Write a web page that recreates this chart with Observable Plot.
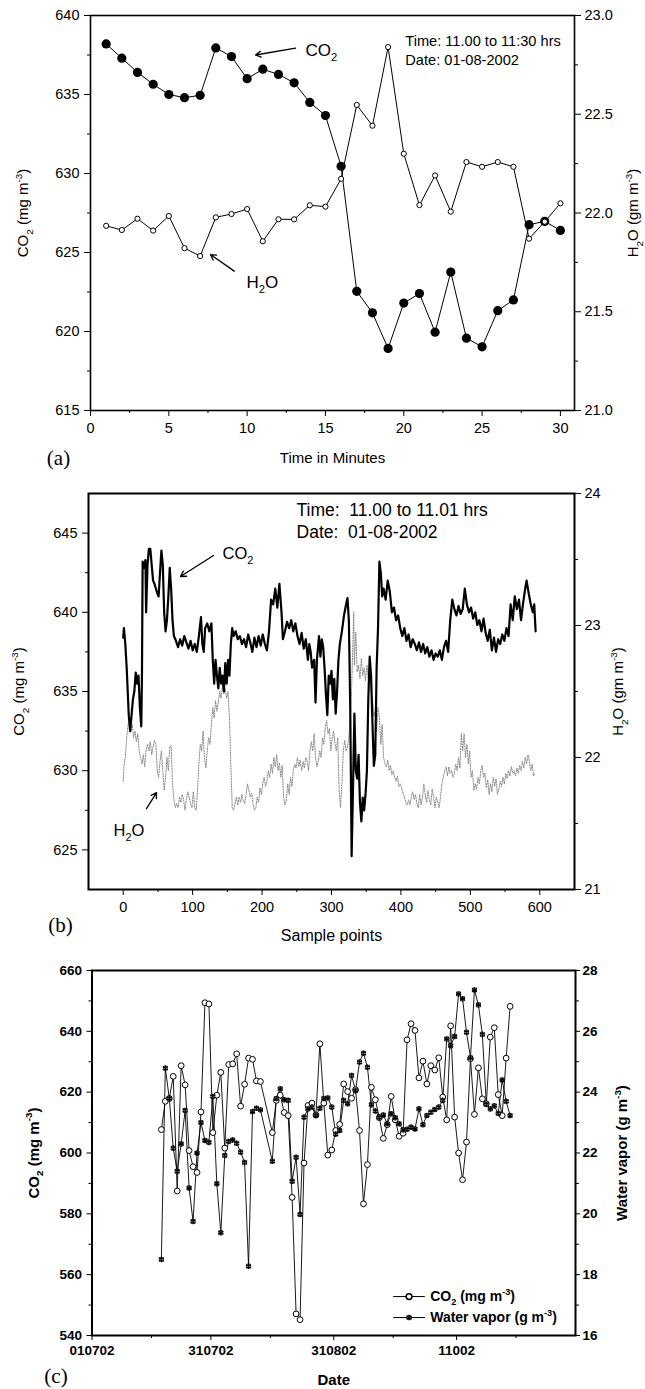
<!DOCTYPE html>
<html><head><meta charset="utf-8">
<script src="https://cdn.jsdelivr.net/npm/d3@7"></script>
<script src="https://cdn.jsdelivr.net/npm/@observablehq/plot@0.6"></script>
<style>
html,body{margin:0;padding:0;background:#fff;}
#root{position:relative;width:645px;height:1389px;overflow:hidden;background:#fff;}
.pan{position:absolute;left:0;}
</style></head><body><div id="root"></div>
<script>
const SANS = "'Liberation Sans', Arial, Helvetica, sans-serif";
const SERIF = "'Liberation Serif', 'Times New Roman', serif";

// ---------------- Panel (a) data ----------------
const minutesA = [1,2,3,4,5,6,7,8,9,10,11,12,13,14,15,16,17,18,19,20,21,22,23,24,25,26,27,28,29,30];
const co2A = [638.2,637.3,636.4,635.65,635.0,634.8,634.95,637.95,637.4,636.0,636.6,636.27,635.74,634.5,633.67,630.46,622.54,621.18,618.93,621.8,622.4,619.96,623.76,619.58,619.03,621.32,622.0,626.76,626.97,626.4];
const h2oA = [21.935,21.914,21.971,21.911,21.985,21.822,21.782,21.978,21.995,22.02,21.857,21.968,21.968,22.039,22.032,22.173,22.547,22.442,22.84,22.30,22.04,22.19,22.007,22.258,22.234,22.258,22.234,21.87,21.956,22.049];
const xTicksA = [0,5,10,15,20,25,30];
const xMinorA = [2.5,7.5,12.5,17.5,22.5,27.5];
const yTicksA = [615,620,625,630,635,640];
const yMinorA = [617.5,622.5,627.5,632.5,637.5];
const rTicksA = [21.0,21.5,22.0,22.5,23.0];
const rMinorA = [21.25,21.75,22.25,22.75];

// ---------------- Panel (b) data ----------------
const co2TraceB = [[0,638.4],[1,639.0],[3,638.0],[5,636.5],[8,633.5],[10,632.5],[12,633.5],[14,634.5],[16,635.0],[18,636.2],[20,635.5],[22,636.0],[24,634.0],[26,632.8],[27,636.0],[28,643.2],[30,642.8],[32,643.3],[33,640.0],[35,643.0],[37,644.0],[39,644.0],[41,643.0],[43,642.0],[45,641.8],[47,641.5],[49,641.2],[51,641.0],[53,642.5],[55,643.9],[57,643.0],[59,640.0],[61,638.8],[63,639.5],[65,641.0],[67,642.8],[69,641.5],[71,639.5],[73,638.5],[76,638.2],[79,637.8],[82,638.3],[85,637.9],[88,638.5],[91,638.1],[94,637.7],[97,638.2],[100,637.6],[103,638.0],[106,637.5],[109,638.5],[112,639.7],[114,638.0],[116,637.5],[118,639.0],[121,639.3],[124,638.8],[127,639.3],[129,637.0],[131,635.5],[133,637.0],[135,636.0],[137,635.2],[139,636.5],[141,635.5],[143,636.0],[145,635.0],[147,636.8],[149,635.5],[151,637.0],[153,636.0],[155,638.0],[157,639.0],[159,638.5],[162,638.8],[165,638.3],[168,638.5],[171,638.0],[174,638.3],[177,637.8],[180,638.6],[183,638.1],[186,637.5],[189,638.4],[192,637.8],[195,638.5],[198,637.9],[201,638.6],[204,638.0],[207,637.6],[210,638.8],[213,640.8],[216,640.5],[219,641.5],[222,640.3],[225,641.8],[228,640.0],[230,638.3],[233,638.8],[236,639.4],[239,639.0],[242,639.5],[245,638.8],[248,639.3],[251,638.5],[254,638.0],[257,638.7],[260,637.7],[263,638.3],[266,637.0],[268,638.0],[270,637.5],[272,636.5],[275,637.0],[277,634.3],[279,637.0],[282,638.5],[284,637.2],[286,638.3],[288,637.8],[290,636.5],[292,634.8],[294,633.5],[296,636.0],[298,635.5],[300,636.3],[302,634.5],[304,635.8],[306,633.6],[308,635.0],[310,637.0],[312,638.0],[315,638.8],[318,639.8],[321,640.5],[323,640.9],[325,639.5],[327,634.0],[329,624.6],[331,629.0],[333,633.6],[335,630.0],[337,629.5],[339,631.0],[341,628.0],[343,626.8],[345,628.3],[347,627.5],[349,628.5],[351,630.0],[353,634.5],[355,637.2],[357,636.0],[359,633.0],[361,630.3],[363,631.0],[365,636.5],[367,639.0],[369,643.2],[371,642.5],[373,641.0],[375,641.5],[378,640.8],[381,642.0],[384,641.3],[387,640.0],[390,640.3],[393,639.5],[396,639.8],[399,639.0],[402,638.5],[405,639.0],[408,638.2],[411,638.6],[414,637.8],[417,638.3],[420,638.0],[423,637.6],[426,638.1],[429,637.5],[432,638.0],[435,637.4],[438,637.8],[441,637.2],[444,637.6],[447,637.0],[450,637.4],[453,637.2],[456,637.6],[459,637.0],[462,637.8],[465,638.2],[468,637.5],[471,639.5],[474,640.8],[477,640.2],[480,639.8],[483,640.4],[486,639.9],[489,640.2],[492,641.5],[495,640.5],[498,640.0],[501,640.3],[504,639.6],[507,640.0],[510,639.2],[513,639.5],[516,638.8],[519,639.6],[522,638.7],[525,638.2],[528,638.9],[531,637.6],[534,638.4],[537,637.5],[540,638.3],[543,638.0],[546,638.6],[549,638.2],[552,639.0],[555,638.5],[558,640.5],[561,639.5],[564,641.0],[567,640.2],[570,640.8],[573,639.5],[576,640.6],[579,641.5],[581,642.0],[584,641.2],[587,640.5],[590,640.0],[592,640.5],[594,638.8]];
const h2oTraceB = [[0,21.82],[1,21.93],[3,22.0],[5,22.15],[7,22.25],[9,22.28],[11,22.2],[13,22.25],[15,22.15],[17,22.2],[19,22.12],[21,22.18],[23,22.05],[25,22.0],[27,21.95],[29,22.02],[31,21.93],[33,22.06],[35,22.1],[37,22.05],[39,22.12],[41,22.02],[43,22.08],[45,22.13],[47,22.1],[49,21.9],[51,21.85],[53,21.97],[55,22.05],[57,21.9],[59,21.75],[61,21.85],[63,22.0],[65,21.9],[67,22.08],[69,22.09],[71,21.8],[73,21.68],[75,21.62],[77,21.65],[79,21.62],[81,21.7],[83,21.66],[85,21.72],[87,21.68],[89,21.6],[91,21.68],[93,21.74],[95,21.7],[97,21.65],[99,21.62],[101,21.74],[103,21.62],[105,21.6],[107,21.75],[109,21.95],[111,22.1],[113,22.05],[115,22.2],[117,22.0],[119,21.92],[121,22.05],[123,22.15],[125,22.1],[127,22.25],[129,22.38],[131,22.3],[133,22.43],[135,22.35],[137,22.42],[139,22.5],[141,22.45],[143,22.55],[145,22.48],[147,22.52],[149,22.45],[151,22.5],[153,22.3],[155,21.95],[157,21.62],[159,21.6],[161,21.65],[163,21.7],[165,21.64],[167,21.7],[169,21.66],[171,21.72],[173,21.67],[175,21.65],[177,21.72],[179,21.8],[181,21.75],[183,21.7],[185,21.73],[187,21.65],[189,21.6],[191,21.62],[193,21.7],[195,21.66],[197,21.77],[199,21.72],[201,21.8],[203,21.85],[205,21.78],[207,21.82],[209,21.9],[211,21.85],[213,21.95],[215,21.88],[217,22.0],[219,21.93],[221,22.02],[223,21.9],[225,21.96],[227,21.85],[229,21.94],[231,21.7],[233,21.64],[235,21.68],[237,21.8],[239,21.72],[241,21.85],[243,21.78],[245,21.9],[247,21.95],[249,21.92],[251,22.0],[253,21.93],[255,21.98],[257,21.9],[259,21.97],[261,21.92],[263,22.0],[265,21.97],[267,21.9],[269,22.05],[271,22.12],[273,22.05],[275,22.18],[277,22.0],[279,21.93],[281,21.97],[283,22.05],[285,22.0],[287,22.15],[289,22.1],[291,22.23],[293,22.28],[295,22.18],[297,22.22],[299,22.05],[301,22.15],[303,22.2],[305,22.1],[307,22.05],[309,22.15],[311,21.75],[313,21.62],[315,21.8],[317,22.05],[319,22.13],[321,22.05],[323,22.08],[325,22.15],[327,22.3],[329,22.53],[331,22.9],[332,23.1],[333,22.7],[335,22.95],[337,22.65],[339,22.7],[341,22.6],[343,22.75],[345,22.62],[347,22.68],[349,22.58],[351,22.7],[353,22.6],[355,22.69],[357,22.5],[359,22.45],[361,22.31],[363,22.35],[365,22.2],[367,22.38],[369,22.3],[371,22.1],[373,22.25],[375,22.0],[377,21.95],[379,21.93],[381,21.98],[383,21.9],[385,21.94],[387,21.87],[389,21.9],[391,21.85],[393,21.82],[395,21.86],[397,21.78],[399,21.8],[401,21.77],[403,21.73],[405,21.7],[407,21.66],[409,21.64],[411,21.68],[413,21.64],[415,21.7],[417,21.74],[419,21.68],[421,21.72],[423,21.65],[425,21.62],[427,21.72],[429,21.64],[431,21.7],[433,21.8],[435,21.72],[437,21.66],[439,21.75],[441,21.68],[443,21.64],[445,21.76],[447,21.7],[449,21.62],[451,21.7],[453,21.66],[455,21.62],[457,21.7],[459,21.8],[461,21.85],[463,21.9],[465,21.93],[467,21.86],[469,21.93],[471,21.88],[473,21.9],[475,21.85],[477,21.88],[479,21.95],[481,21.9],[483,22.0],[485,21.92],[487,22.18],[489,22.05],[491,22.18],[493,22.0],[495,22.1],[497,21.95],[499,22.05],[501,21.85],[503,21.9],[505,21.75],[507,21.8],[509,21.76],[511,21.85],[513,21.8],[515,21.9],[517,21.94],[519,21.85],[521,21.88],[523,21.77],[525,21.83],[527,21.72],[529,21.8],[531,21.74],[533,21.85],[535,21.78],[537,21.84],[539,21.72],[541,21.76],[543,21.82],[545,21.78],[547,21.85],[549,21.8],[551,21.88],[553,21.84],[555,21.9],[557,21.86],[559,21.93],[561,21.88],[563,21.9],[565,21.86],[567,21.92],[569,21.88],[571,21.94],[573,21.9],[575,21.97],[577,21.92],[579,22.0],[581,21.95],[583,22.02],[585,21.97],[587,21.9],[589,21.95],[591,21.86],[593,21.88]];
const xTicksB = [0,100,200,300,400,500,600];
const xMinorB = [50,150,250,350,450,550];
const yTicksB = [625,630,635,640,645];
const yMinorB = [627.5,632.5,637.5,642.5];
const rTicksB = [21,22,23,24];
const rMinorB = [21.5,22.5,23.5];

// ---------------- Panel (c) data ----------------
const datesC = ["07-18","07-19","07-20","07-21","07-22","07-23","07-24","07-25","07-26","07-27","07-28","07-29","07-30","07-31","08-01","08-02","08-03","08-04","08-05","08-06","08-07","08-08","08-09","08-10","08-11","08-12",
"08-15","08-16","08-17","08-18","08-19","08-20","08-21","08-22","08-23","08-24","08-25","08-26","08-27","08-28","08-29","08-30","08-31","09-01","09-02","09-03","09-04","09-05","09-06","09-07","09-08","09-09","09-10","09-11","09-12","09-13","09-14","09-15","09-16","09-17","09-18","09-19","09-20","09-21","09-22","09-23","09-24","09-25","09-26","09-27","09-28","09-29","09-30","10-01","10-02","10-03","10-04","10-05","10-06","10-07","10-08","10-09","10-10","10-11","10-12","10-13","10-14"];
const co2C = [607.7,617.0,617.9,625.2,587.5,628.7,622.4,600.8,595.5,593.6,613.5,649.4,649.0,606.7,619.0,626.5,601.6,629.1,629.3,632.6,615.4,622.6,631.2,630.8,623.7,623.5,
606.7,617.3,619.0,613.3,612.3,585.4,547.1,545.2,596.7,615.6,616.4,612.5,635.9,616.4,599.3,601.0,607.4,609.4,622.7,620.2,618.0,620.8,607.4,583.3,596.2,621.6,617.5,611.6,604.8,609.3,618.6,610.9,605.5,606.5,637.2,642.5,640.3,624.7,630.2,622.7,628.7,627.3,631.3,618.4,610.9,641.8,611.8,600.0,591.2,603.6,631.0,612.7,628.0,617.8,616.2,638.1,641.2,619.2,612.3,631.2,648.2];
const wvC = [18.5,24.79,23.8,22.16,21.4,22.3,23.4,20.85,19.75,22.0,23.0,22.41,22.35,23.86,20.99,19.38,21.92,22.38,22.43,22.32,22.03,21.69,18.28,23.36,23.47,23.42,
21.73,23.79,24.11,23.75,23.73,21.07,21.86,19.98,23.18,23.45,23.51,23.23,23.47,23.79,23.81,23.51,22.62,22.74,23.73,23.62,24.55,24.05,24.99,25.28,24.82,23.59,23.38,23.18,23.25,22.96,23.29,23.16,22.96,22.76,22.78,22.85,22.79,23.45,22.93,23.23,23.34,23.43,23.51,23.73,25.75,25.53,25.83,27.23,27.07,25.97,25.13,27.36,26.87,25.90,23.6,23.45,23.55,23.3,24.4,23.7,23.23];
const xTickDatesC = ["2002-07-01","2002-07-31","2002-08-31","2002-10-01"];
const xTickLabelsC = ["010702","310702","310802","11002"];
const xMinorDatesC = ["2002-07-16","2002-08-15","2002-09-15","2002-10-16"];
const yTicksC = [540,560,580,600,620,640,660];
const yMinorC = [550,570,590,610,630,650];
const rTicksC = [16,18,20,22,24,26,28];
const rMinorC = [17,19,21,23,25,27];

// ---------------- helpers ----------------
const blank = () => "";
function richText(svg) {
  svg.querySelectorAll("text").forEach(t => {
    const s = t.textContent;
    if (!/[_^]\{/.test(s)) return;
    const fs = parseFloat(getComputedStyle(t).fontSize) || 14;
    const parts = s.split(/([_^]\{[^}]*\})/).filter(p => p !== "");
    while (t.firstChild) t.removeChild(t.firstChild);
    let shift = 0;
    for (const p of parts) {
      const ts = document.createElementNS("http://www.w3.org/2000/svg", "tspan");
      let target = 0, txt = p, small = false;
      if (p.startsWith("_{")) { target = 0.3; txt = p.slice(2, -1); small = true; }
      else if (p.startsWith("^{")) { target = -0.45; txt = p.slice(2, -1); small = true; }
      const dy = (target - shift) * fs;
      if (Math.abs(dy) > 0.01) ts.setAttribute("dy", dy.toFixed(2));
      if (small) ts.setAttribute("font-size", (fs * 0.66).toFixed(1));
      ts.textContent = txt;
      t.appendChild(ts);
      shift = target;
    }
  });
}
function place(svg, top) {
  const d = document.createElement("div");
  d.className = "pan"; d.style.top = top + "px";
  d.appendChild(svg);
  document.getElementById("root").appendChild(d);
  richText(svg);
}
const label = (txt, o) => Plot.text([txt], Object.assign({text: d => d, textAnchor: "middle", lineAnchor: "middle", fill: "black"}, o));

// ---------------- Panel (a) ----------------
const yA = v => 615 + (v - 21) * 12.5;
const tableA = minutesA.map((t, i) => ({t, co2: co2A[i], h2o: h2oA[i]}));
const plotA = Plot.plot({
  width: 645, height: 470, marginTop: 15, marginBottom: 60, marginLeft: 90, marginRight: 71,
  x: {domain: [0, 30.9]}, y: {domain: [615, 640]},
  style: {fontFamily: SANS, fontSize: "14px", color: "black", background: "transparent", overflow: "visible"},
  marks: [
    Plot.axisX({ticks: xTicksA, tickSize: 6, tickPadding: 6, fontSize: 14.5, label: null}),
    Plot.axisX({ticks: xMinorA, tickSize: 3, tickFormat: blank, label: null}),
    Plot.axisY({ticks: yTicksA, tickSize: 6, tickPadding: 5, fontSize: 14.5, label: null}),
    Plot.axisY({ticks: yMinorA, tickSize: 3, tickFormat: blank, label: null}),
    Plot.axisY({anchor: "right", ticks: rTicksA.map(yA), tickFormat: d => ((d - 615) / 12.5 + 21).toFixed(1), tickSize: 6, tickPadding: 4, fontSize: 14.5, label: null}),
    Plot.axisY({anchor: "right", ticks: rMinorA.map(yA), tickSize: 3, tickFormat: blank, label: null}),
    Plot.frame({stroke: "black", strokeWidth: 1.6}),
    Plot.line(tableA, {x: "t", y: "co2", stroke: "black", strokeWidth: 1}),
    Plot.dot(tableA, {x: "t", y: "co2", r: 4.6, fill: "black", stroke: "none"}),
    Plot.line(tableA, {x: "t", y: d => yA(d.h2o), stroke: "black", strokeWidth: 1}),
    Plot.dot(tableA, {x: "t", y: d => yA(d.h2o), r: 2.6, fill: "white", stroke: "black", strokeWidth: 1}),
    Plot.text(["Time: 11.00 to 11:30 hrs", "Date: 01-08-2002"], {x: [20.1, 20.1], y: [638.35, 637.15], text: d => d, textAnchor: "start", fontSize: 14.6, fill: "black"}),
    Plot.text(["CO_{2}"], {x: [13.73], y: [637.8], text: d => d, textAnchor: "start", fontSize: 17, fill: "black"}),
    Plot.arrow([{x1: 13.09, y1: 637.93, x2: 10.54, y2: 637.5}], {x1: "x1", y1: "y1", x2: "x2", y2: "y2", stroke: "black", strokeWidth: 1.3, headLength: 7}),
    Plot.text(["H_{2}O"], {x: [9.96], y: [623.1], text: d => d, textAnchor: "start", fontSize: 17, fill: "black"}),
    Plot.arrow([{x1: 9.18, y1: 623.82, x2: 7.66, y2: 624.87}], {x1: "x1", y1: "y1", x2: "x2", y2: "y2", stroke: "black", strokeWidth: 1.3, headLength: 7}),
    label("Time in Minutes", {frameAnchor: "bottom", dy: 48, fontSize: 15}),
    label("(a)", {frameAnchor: "bottom-left", dx: -32, dy: 48, fontSize: 21, fontFamily: SERIF}),
    label("CO_{2} (mg m^{-3})", {frameAnchor: "left", dx: -67, rotate: -90, fontSize: 15}),
    label("H_{2}O (gm m^{-3})", {frameAnchor: "right", dx: 59, rotate: -90, fontSize: 15})
  ]
});
place(plotA, 0);

// ---------------- Panel (b) ----------------
const yB = v => 622.5 + (v - 21) * 25 / 3;
const plotB = Plot.plot({
  width: 645, height: 475, marginTop: 23, marginBottom: 56, marginLeft: 88, marginRight: 71,
  x: {domain: [-50, 650]}, y: {domain: [622.5, 647.5]},
  style: {fontFamily: SANS, fontSize: "14px", color: "black", background: "transparent", overflow: "visible"},
  marks: [
    Plot.axisX({ticks: xTicksB, tickSize: 6, tickPadding: 6, fontSize: 14.5, label: null}),
    Plot.axisX({ticks: xMinorB, tickSize: 3, tickFormat: blank, label: null}),
    Plot.axisY({ticks: yTicksB, tickSize: 6, tickPadding: 5, fontSize: 14.5, label: null}),
    Plot.axisY({ticks: yMinorB, tickSize: 3, tickFormat: blank, label: null}),
    Plot.axisY({anchor: "right", ticks: rTicksB.map(yB), tickFormat: d => String(Math.round((d - 622.5) * 3 / 25 + 21)), tickSize: 6, tickPadding: 4, fontSize: 14.5, label: null}),
    Plot.axisY({anchor: "right", ticks: rMinorB.map(yB), tickSize: 3, tickFormat: blank, label: null}),
    Plot.frame({stroke: "black", strokeWidth: 2}),
    Plot.line(h2oTraceB, {x: d => d[0], y: d => yB(d[1]), stroke: "#888", strokeWidth: 1, strokeDasharray: "1.2,1.4"}),
    Plot.line(co2TraceB, {x: d => d[0], y: d => d[1], stroke: "black", strokeWidth: 2.2}),
    Plot.text(["Time:  11.00 to 11.01 hrs", "Date:  01-08-2002"], {x: [249.6, 249.6], y: [646.43, 645.04], text: d => d, textAnchor: "start", fontSize: 17.5, fill: "black"}),
    Plot.text(["CO_{2}"], {x: [143], y: [643.7], text: d => d, textAnchor: "start", fontSize: 16.5, fill: "black"}),
    Plot.arrow([{x1: 130, y1: 643.59, x2: 82.5, y2: 642.26}], {x1: "x1", y1: "y1", x2: "x2", y2: "y2", stroke: "black", strokeWidth: 1.3, headLength: 7}),
    Plot.text(["H_{2}O"], {x: [-14], y: [626.22], text: d => d, textAnchor: "start", fontSize: 16.5, fill: "black"}),
    Plot.arrow([{x1: 33.5, y1: 627.61, x2: 48, y2: 628.62}], {x1: "x1", y1: "y1", x2: "x2", y2: "y2", stroke: "black", strokeWidth: 1.3, headLength: 7}),
    label("Sample points", {frameAnchor: "bottom", dy: 46, fontSize: 16}),
    label("(b)", {frameAnchor: "bottom-left", dx: -28, dy: 36, fontSize: 21, fontFamily: SERIF}),
    label("CO_{2} (mg m^{-3})", {frameAnchor: "left", dx: -69, rotate: -90, fontSize: 15}),
    label("H_{2}O (gm m^{-3})", {frameAnchor: "right", dx: 44, rotate: -90, fontSize: 15})
  ]
});
place(plotB, 470);

// ---------------- Panel (c) ----------------
const yC = v => 540 + (v - 16) * 10;
const tableC = datesC.map((d, i) => ({date: new Date("2002-" + d + "T12:00:00Z"), co2: co2C[i], wv: wvC[i]}));
const tickMapC = new Map(xTickDatesC.map((d, i) => [+new Date(d), xTickLabelsC[i]]));
const plotC = Plot.plot({
  width: 645, height: 444, marginTop: 25, marginBottom: 54, marginLeft: 91.5, marginRight: 70,
  x: {type: "utc", domain: [new Date("2002-07-01"), new Date("2002-10-31")]},
  y: {domain: [540, 660]},
  style: {fontFamily: SANS, fontSize: "13px", color: "black", background: "transparent", overflow: "visible"},
  marks: [
    Plot.axisX({ticks: xTickDatesC.map(d => new Date(d)), tickFormat: d => tickMapC.get(+d), tickSize: 5, tickPadding: 5, fontSize: 13.5, fontWeight: "bold", label: null}),
    Plot.axisX({ticks: xMinorDatesC.map(d => new Date(d)), tickSize: 3, tickFormat: blank, label: null}),
    Plot.axisY({ticks: yTicksC, tickSize: 5, tickPadding: 5, fontSize: 13.5, fontWeight: "bold", label: null}),
    Plot.axisY({ticks: yMinorC, tickSize: 3, tickFormat: blank, label: null}),
    Plot.axisY({anchor: "right", ticks: rTicksC.map(yC), tickFormat: d => String(Math.round((d - 540) / 10 + 16)), tickSize: 4, tickPadding: 3, fontSize: 13.5, fontWeight: "bold", label: null}),
    Plot.axisY({anchor: "right", ticks: rMinorC.map(yC), tickSize: 3, tickFormat: blank, label: null}),
    Plot.frame({stroke: "black", strokeWidth: 2}),
    Plot.line(tableC, {x: "date", y: "co2", stroke: "black", strokeWidth: 0.9}),
    Plot.line(tableC, {x: "date", y: d => yC(d.wv), stroke: "black", strokeWidth: 0.9}),
    Plot.dot(tableC, {x: "date", y: "co2", r: 2.9, fill: "white", stroke: "black", strokeWidth: 1}),
    Plot.dot(tableC, {x: "date", y: d => yC(d.wv), r: 2.3, symbol: "square", fill: "#bbb", stroke: "black", strokeWidth: 0.7}),
    Plot.dot(tableC, {x: "date", y: d => yC(d.wv), r: 2.6, symbol: "asterisk", stroke: "black", strokeWidth: 1.2}),
    // legend
    Plot.link([{x1: new Date("2002-09-15"), x2: new Date("2002-09-23"), y: 552.8}, {x1: new Date("2002-09-15"), x2: new Date("2002-09-23"), y: 545.9}], {x1: "x1", x2: "x2", y1: "y", y2: "y", stroke: "black", strokeWidth: 1}),
    Plot.dot([{x: new Date("2002-09-19"), y: 552.8}], {x: "x", y: "y", r: 2.9, fill: "white", stroke: "black"}),
    Plot.dot([{x: new Date("2002-09-19"), y: 545.9}], {x: "x", y: "y", r: 2.3, symbol: "square", fill: "#bbb", stroke: "black", strokeWidth: 0.7}),
    Plot.dot([{x: new Date("2002-09-19"), y: 545.9}], {x: "x", y: "y", r: 2.6, symbol: "asterisk", stroke: "black", strokeWidth: 1.2}),
    Plot.text(["CO_{2} (mg m^{-3})", "Water vapor (g m^{-3})"], {x: [new Date("2002-09-24T08:00Z"), new Date("2002-09-24T08:00Z")], y: [552.8, 545.9], text: d => d, textAnchor: "start", fontSize: 14, fontWeight: "bold", fill: "black"}),
    label("Date", {frameAnchor: "bottom", dy: 45, fontSize: 15, fontWeight: "bold"}),
    label("(c)", {frameAnchor: "bottom-left", dx: -36, dy: 41, fontSize: 21, fontFamily: SERIF}),
    label("CO_{2} (mg m^{-3})", {frameAnchor: "left", dx: -58, rotate: -90, fontSize: 15, fontWeight: "bold"}),
    label("Water vapor (g m^{-3})", {frameAnchor: "right", dx: 47, rotate: -90, fontSize: 15, fontWeight: "bold"})
  ]
});
place(plotC, 945);
</script></body></html>
